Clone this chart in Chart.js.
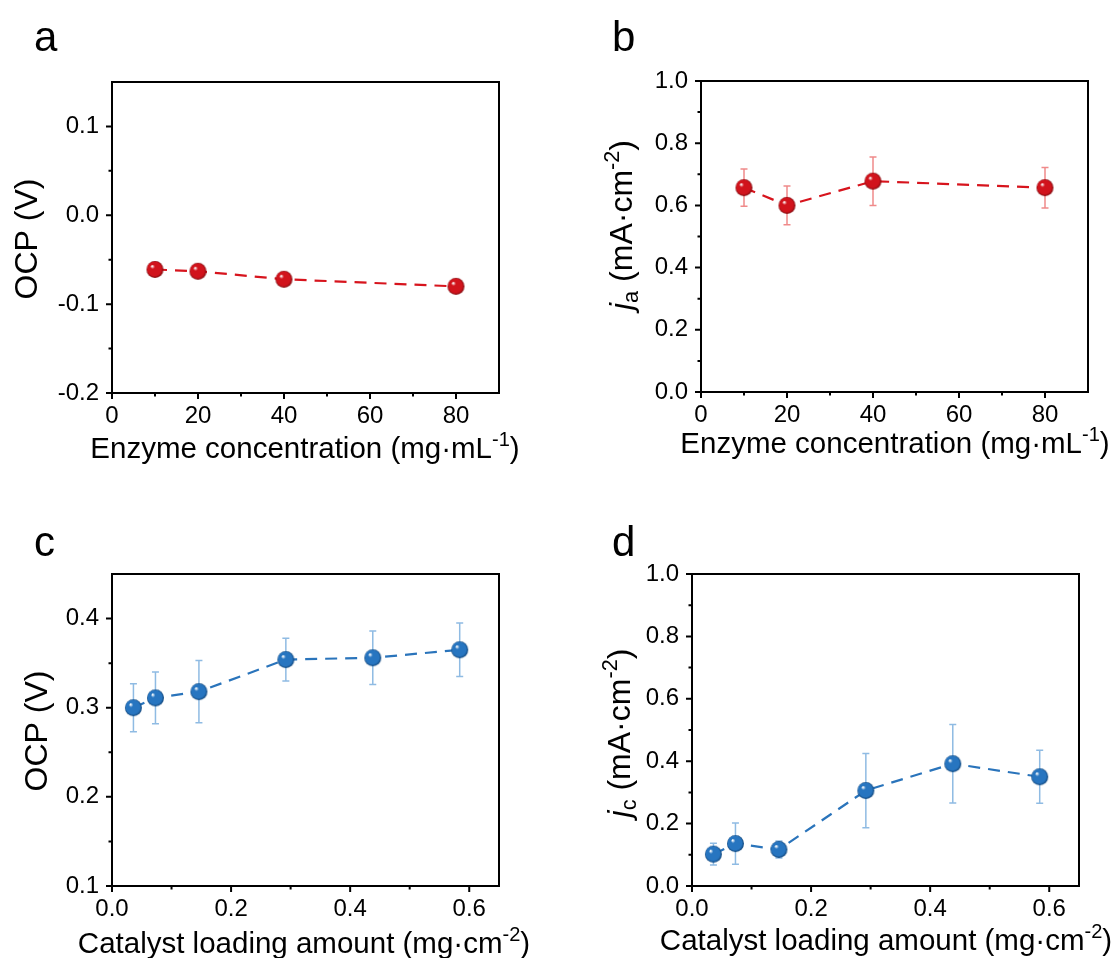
<!DOCTYPE html>
<html>
<head>
<meta charset="utf-8">
<script src="https://cdn.jsdelivr.net/npm/chart.js@4.4.1/dist/chart.umd.min.js"></script>
<style>
  body { margin: 0; background: #fff; }
  #wrap { position: relative; width: 1116px; height: 958px; }
  #wrap canvas { position: absolute; left: 0; top: 0; }
</style>
</head>
<body>
<div id="wrap">
  <canvas id="chartA" width="1116" height="958"></canvas>
  <canvas id="chartB" width="1116" height="958"></canvas>
  <canvas id="chartC" width="1116" height="958"></canvas>
  <canvas id="chartD" width="1116" height="958"></canvas>
</div>
<script>
// data
const enzymeConc = [10, 20, 40, 80];
const ocpEnzyme = [-0.061, -0.063, -0.072, -0.080];
const jaValues = [0.657, 0.600, 0.678, 0.657];
const jaErrors = [0.060, 0.062, 0.078, 0.065];

const catalystLoading = [0.036, 0.073, 0.146, 0.292, 0.438, 0.584];
const ocpCatalyst = [0.300, 0.311, 0.318, 0.354, 0.356, 0.365];
const ocpCatalystErr = [0.027, 0.029, 0.035, 0.024, 0.030, 0.030];
const jcValues = [0.102, 0.136, 0.117, 0.306, 0.392, 0.350];
const jcErrors = [0.035, 0.066, 0.027, 0.119, 0.126, 0.085];

// tick labels
const enzymeTicks = [0, 20, 40, 60, 80];
const enzymeMinor = [10, 30, 50, 70];
const loadingTicks = [0, 0.2, 0.4, 0.6];
const loadingMinor = [0.1, 0.3, 0.5];
const ocpEnzymeTicks = [-0.2, -0.1, 0, 0.1];
const ocpEnzymeMinor = [-0.15, -0.05, 0.05];
const ocpCatalystTicks = [0.1, 0.2, 0.3, 0.4];
const ocpCatalystMinor = [0.15, 0.25, 0.35];
const currentTicks = [0, 0.2, 0.4, 0.6, 0.8, 1.0];
const currentMinor = [0.1, 0.3, 0.5, 0.7, 0.9];

const FONT = "'Liberation Sans', Arial, sans-serif";
const RED = "#d7141d";
const BLUE = "#2a74bb";

// little shaded sphere used as marker
function sphere(base, dark, r) {
  const c = document.createElement("canvas");
  c.width = c.height = r * 2 + 2;
  const g = c.getContext("2d");
  const cx = r + 1, cy = r + 1;
  const grad = g.createRadialGradient(cx - r * 0.35, cy - r * 0.4, r * 0.05, cx, cy, r);
  grad.addColorStop(0, "#ffffff");
  grad.addColorStop(0.22, base);
  grad.addColorStop(0.8, base);
  grad.addColorStop(1, dark);
  g.fillStyle = grad;
  g.beginPath();
  g.arc(cx, cy, r, 0, Math.PI * 2);
  g.fill();
  return c;
}

function drawRich(ctx, parts, size, x, y, rotate) {
  ctx.save();
  ctx.translate(x, y);
  if (rotate) ctx.rotate(-Math.PI / 2);
  ctx.fillStyle = "#000";
  ctx.textBaseline = "alphabetic";
  ctx.textAlign = "left";
  let w = 0;
  parts.forEach(p => {
    const s = p.sub || p.sup ? size * 0.68 : size;
    ctx.font = (p.italic ? "italic " : "") + s + "px " + FONT;
    p.w = ctx.measureText(p.t).width;
    p.s = s;
    w += p.w;
  });
  let cx = -w / 2;
  parts.forEach(p => {
    ctx.font = (p.italic ? "italic " : "") + p.s + "px " + FONT;
    let dy = 0;
    if (p.sub) dy = size * 0.2;
    if (p.sup) dy = -size * 0.4;
    ctx.fillText(p.t, cx, dy + size * 0.36);
    cx += p.w;
  });
  ctx.restore();
}

const panelPlugin = {
  id: "panel",
  beforeDatasetsDraw(chart) {
    const p = chart.config.options.plugins.panel;
    if (!p.errors) return;
    const ctx = chart.ctx, xs = chart.scales.x, ys = chart.scales.y;
    ctx.save();
    ctx.strokeStyle = p.errColor;
    ctx.lineWidth = 1.5;
    p.xs.forEach((xv, i) => {
      const px = xs.getPixelForValue(xv);
      const top = ys.getPixelForValue(p.ys[i] + p.errors[i]);
      const bot = ys.getPixelForValue(p.ys[i] - p.errors[i]);
      ctx.beginPath();
      ctx.moveTo(px, top); ctx.lineTo(px, bot);
      ctx.moveTo(px - 3.5, top); ctx.lineTo(px + 3.5, top);
      ctx.moveTo(px - 3.5, bot); ctx.lineTo(px + 3.5, bot);
      ctx.stroke();
    });
    ctx.restore();
  },
  afterDraw(chart) {
    const p = chart.config.options.plugins.panel;
    const ctx = chart.ctx, a = chart.chartArea;
    const xs = chart.scales.x, ys = chart.scales.y;
    ctx.save();
    ctx.strokeStyle = "#000";
    ctx.lineWidth = 2;
    ctx.strokeRect(a.left, a.top, a.right - a.left, a.bottom - a.top);
    ctx.beginPath();
    p.xMajor.forEach(v => { const x = xs.getPixelForValue(v); ctx.moveTo(x, a.bottom); ctx.lineTo(x, a.bottom + 6); });
    p.xMinor.forEach(v => { const x = xs.getPixelForValue(v); ctx.moveTo(x, a.bottom); ctx.lineTo(x, a.bottom + 3.5); });
    p.yMajor.forEach(v => { const y = ys.getPixelForValue(v); ctx.moveTo(a.left, y); ctx.lineTo(a.left - 6, y); });
    p.yMinor.forEach(v => { const y = ys.getPixelForValue(v); ctx.moveTo(a.left, y); ctx.lineTo(a.left - 3.5, y); });
    ctx.stroke();

    // panel letter
    ctx.fillStyle = "#000";
    ctx.font = "42px " + FONT;
    ctx.textAlign = "left";
    ctx.textBaseline = "alphabetic";
    ctx.fillText(p.letter, p.letterPos[0], p.letterPos[1]);

    // axis titles
    drawRich(ctx, p.xTitle, 29.5, p.xTitlePos[0], p.xTitlePos[1] - 29.5 * 0.36, false);
    drawRich(ctx, p.yTitle, 32, p.yTitlePos[0], p.yTitlePos[1], true);
    ctx.restore();
  }
};

function makePanel(id, opt) {
  const L = opt.area[0], T = opt.area[1], R = opt.area[2], B = opt.area[3];
  const points = opt.xs.map((x, i) => ({ x: x, y: opt.ys[i] }));
  new Chart(document.getElementById(id), {
    type: "scatter",
    data: {
      datasets: [{
        data: points,
        showLine: true,
        borderColor: opt.color,
        borderWidth: 2.2,
        borderDash: [12, 8],
        pointStyle: opt.marker,
        pointRadius: 8,
        pointHoverRadius: 8
      }]
    },
    options: {
      responsive: false,
      animation: false,
      devicePixelRatio: 1,
      layout: { padding: { left: L - 60, top: T, right: 1116 - R, bottom: 958 - B - 40 } },
      scales: {
        x: {
          type: "linear",
          min: opt.xRange[0], max: opt.xRange[1],
          grid: { display: false, drawTicks: false },
          border: { display: false },
          ticks: {
            color: "#000", font: { family: FONT, size: 24 }, padding: 9,
            maxRotation: 0, autoSkip: false,
            callback: v => v.toFixed(opt.xDec)
          },
          afterBuildTicks: s => { s.ticks = opt.xMajor.map(v => ({ value: v })); },
          afterFit: s => { s.height = 40; }
        },
        y: {
          type: "linear",
          min: opt.yRange[0], max: opt.yRange[1],
          grid: { display: false, drawTicks: false },
          border: { display: false },
          ticks: {
            color: "#000", font: { family: FONT, size: 24 }, padding: 13,
            autoSkip: false,
            callback: v => (Math.abs(v) < 1e-9 ? 0 : v).toFixed(1)
          },
          afterBuildTicks: s => { s.ticks = opt.yMajor.map(v => ({ value: v })); },
          afterFit: s => { s.width = 60; }
        }
      },
      plugins: {
        legend: { display: false },
        tooltip: { enabled: false },
        panel: opt
      }
    },
    plugins: [panelPlugin]
  });
}

const redBall = sphere("#d1131c", "#7d0a0e", 8.5);
const blueBall = sphere("#2775c0", "#12467a", 8.5);

const enzymeTitle = [{ t: "Enzyme concentration (mg\u00b7mL" }, { t: "-1", sup: true }, { t: ")" }];
const loadingTitle = [{ t: "Catalyst loading amount (mg\u00b7cm" }, { t: "-2", sup: true }, { t: ")" }];
const ocpTitle = [{ t: "OCP (V)" }];
const jaTitle = [{ t: "j", italic: true }, { t: "a", sub: true }, { t: " (mA\u00b7cm" }, { t: "-2", sup: true }, { t: ")" }];
const jcTitle = [{ t: "j", italic: true }, { t: "c", sub: true }, { t: " (mA\u00b7cm" }, { t: "-2", sup: true }, { t: ")" }];

makePanel("chartA", {
  area: [112, 82, 499, 393], xRange: [0, 90], yRange: [-0.2, 0.15],
  xs: enzymeConc, ys: ocpEnzyme, errors: null,
  xMajor: enzymeTicks, xMinor: enzymeMinor, yMajor: ocpEnzymeTicks, yMinor: ocpEnzymeMinor, xDec: 0,
  color: RED, marker: redBall, errColor: "#f08a8a",
  letter: "a", letterPos: [34, 51],
  xTitle: enzymeTitle, xTitlePos: [305, 458], yTitle: ocpTitle, yTitlePos: [25, 239]
});
makePanel("chartB", {
  area: [701, 81, 1088, 392], xRange: [0, 90], yRange: [0, 1.0],
  xs: enzymeConc, ys: jaValues, errors: jaErrors,
  xMajor: enzymeTicks, xMinor: enzymeMinor, yMajor: currentTicks, yMinor: currentMinor, xDec: 0,
  color: RED, marker: redBall, errColor: "#f08a8a",
  letter: "b", letterPos: [612, 51],
  xTitle: enzymeTitle, xTitlePos: [895, 453], yTitle: jaTitle, yTitlePos: [620, 225]
});
makePanel("chartC", {
  area: [112, 574, 499, 886], xRange: [0, 0.65], yRange: [0.1, 0.45],
  xs: catalystLoading, ys: ocpCatalyst, errors: ocpCatalystErr,
  xMajor: loadingTicks, xMinor: loadingMinor, yMajor: ocpCatalystTicks, yMinor: ocpCatalystMinor, xDec: 1,
  color: BLUE, marker: blueBall, errColor: "#8fbbe3",
  letter: "c", letterPos: [34, 556],
  xTitle: loadingTitle, xTitlePos: [304, 953], yTitle: ocpTitle, yTitlePos: [35, 731]
});
makePanel("chartD", {
  area: [692, 574, 1079, 886], xRange: [0, 0.65], yRange: [0, 1.0],
  xs: catalystLoading, ys: jcValues, errors: jcErrors,
  xMajor: loadingTicks, xMinor: loadingMinor, yMajor: currentTicks, yMinor: currentMinor, xDec: 1,
  color: BLUE, marker: blueBall, errColor: "#8fbbe3",
  letter: "d", letterPos: [612, 556],
  xTitle: loadingTitle, xTitlePos: [886, 950], yTitle: jcTitle, yTitlePos: [618, 733]
});
</script>
</body>
</html>
